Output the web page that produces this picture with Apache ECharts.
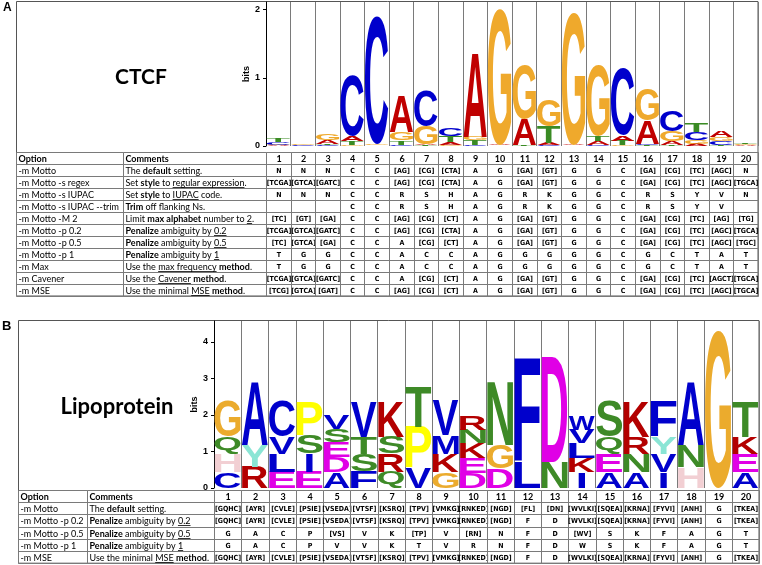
<!DOCTYPE html>
<html><head><meta charset="utf-8">
<script src="https://cdn.jsdelivr.net/npm/echarts@6/dist/echarts.min.js"></script>
<style>html,body{margin:0;padding:0;background:#fff}#c{width:762px;height:565px}</style>
</head><body><div id="c"></div>
<script>
// ================= DATA =================
const positions = [1,2,3,4,5,6,7,8,9,10,11,12,13,14,15,16,17,18,19,20];

// CTCF logo: letters bottom-to-top per position, heights in bits
const ctcfLetters = ['AGCT','ACTG','CTAG','GTAC','ATGC','CTGA','TAGC','GATC','CTGA','CTAG',
                     'CTAG','CATG','TCAG','CATG','GTAC','TCAG','TAGC','AGCT','TCGA','ACGT'];
const ctcfBits = [[0.01,0.01,0.04,0.06],[0.005,0.01,0.005,0.02],[0.01,0.02,0.06,0.10],[0.02,0.05,0.08,0.89],
                  [0.005,0.005,0.02,1.87],[0.02,0.06,0.12,0.53],[0.01,0.02,0.26,0.52],[0.02,0.04,0.09,0.12],
                  [0.01,0.07,0.05,1.23],[0.005,0.005,0.01,1.99],[0.005,0.01,0.38,0.80],[0.01,0.03,0.25,0.38],
                  [0.005,0.005,0.01,1.93],[0.02,0.06,0.07,1.04],[0.01,0.07,0.08,0.98],[0.01,0.02,0.34,0.47],
                  [0.02,0.05,0.15,0.31],[0.03,0.06,0.12,0.14],[0.02,0.05,0.06,0.09],[0.01,0.005,0.01,0.01]];

// Lipoprotein logo
const lipoLetters = ['CHQG','RYA','ELVC','EISP','ADESV','FSTV','QRSK','VPT','GKMV','DEKNR',
                     'DGN','LF','ND','IKLVW','AEQS','ANRK','IVYF','HNA','G','AEKT'];
const lipoBits = [[0.44,0.50,0.46,0.97],[0.58,0.59,1.75],[0.44,0.50,0.46,0.97],[0.44,0.50,0.50,0.93],
                  [0.44,0.41,0.41,0.35,0.38],[0.46,0.48,0.47,0.96],[0.44,0.50,0.46,0.97],[0.55,1.12,1.10],
                  [0.44,0.50,0.50,0.93],[0.40,0.41,0.41,0.37,0.39],[0.53,0.64,1.75],[0.71,2.86],
                  [0.71,2.86],[0.44,0.37,0.41,0.37,0.39],[0.44,0.50,0.46,0.97],[0.44,0.50,0.46,0.97],
                  [0.44,0.50,0.46,0.97],[0.58,0.59,1.75],[4.29],[0.44,0.50,0.46,0.97]];

const ctcfTicks = [0,1,2];
const lipoTicks = [0,1,2,3,4];

const ctcfOptions = ['-m Motto','-m Motto -s regex','-m Motto -s IUPAC','-m Motto -s IUPAC --trim','-m Motto -M 2',
  '-m Motto -p 0.2','-m Motto -p 0.5','-m Motto -p 1','-m Max','-m Cavener','-m MSE'];
const ctcfComments = ['The **default** setting.','Set **style** to __regular expression__.','Set **style** to __IUPAC__ code.',
  '**Trim** off flanking Ns.','Limit **max alphabet** number to __2__.','**Penalize** ambiguity by __0.2__',
  '**Penalize** ambiguity by __0.5__','**Penalize** ambiguity by __1__','Use the __max frequency__ **method**.',
  'Use the __Cavener__ **method**.','Use the minimal __MSE__ **method**.'];
const ctcfConsensus = [
  'N N N C C [AG] [CG] [CTA] A G [GA] [GT] G G C [GA] [CG] [TC] [AGC] N',
  '[TCGA] [GTCA] [GATC] C C [AG] [CG] [CTA] A G [GA] [GT] G G C [GA] [CG] [TC] [AGC] [TGCA]',
  'N N N C C R S H A G R K G G C R S Y V N',
  '_ _ _ C C R S H A G R K G G C R S Y V _',
  '[TC] [GT] [GA] C C [AG] [CG] [CT] A G [GA] [GT] G G C [GA] [CG] [TC] [AG] [TG]',
  '[TCGA] [GTCA] [GATC] C C [AG] [CG] [CTA] A G [GA] [GT] G G C [GA] [CG] [TC] [AGC] [TGCA]',
  '[TC] [GTCA] [GA] C C A [CG] [CT] A G [GA] [GT] G G C [GA] [CG] [TC] [AGC] [TGC]',
  'T G G C C A C C A G G G G G C G C T A T',
  'T G G C C A C C A G G G G G C G C T A T',
  '[TCGA] [GTCA] [GATC] C C A [CG] [CT] A G [GA] [GT] G G C [GA] [CG] [TC] [AGCT] [TGCA]',
  '[TCG] [GTCA] [GAT] C C [AG] [CG] [CT] A G [GA] [GT] G G C [GA] [CG] [TC] [AGC] [TGCA]'];

const lipoOptions = ['-m Motto','-m Motto -p 0.2','-m Motto -p 0.5','-m Motto -p 1','-m MSE'];
const lipoComments = ['The **default** setting.','**Penalize** ambiguity by __0.2__','**Penalize** ambiguity by __0.5__',
  '**Penalize** ambiguity by __1__','Use the minimal __MSE__ **method**.'];
const lipoConsensus = [
  '[GQHC] [AYR] [CVLE] [PSIE] [VSEDA] [VTSF] [KSRQ] [TPV] [VMKG] [RNKED] [NGD] [FL] [DN] [WVLKI] [SQEA] [KRNA] [FYVI] [ANH] G [TKEA]',
  '[GQHC] [AYR] [CVLE] [PSIE] [VSEDA] [VTSF] [KSRQ] [TPV] [VMKG] [RNKED] [NGD] F D [WVLKI] [SQEA] [KRNA] [FYVI] [ANH] G [TKEA]',
  'G A C P [VS] V K [TP] V [RN] N F D [WV] S K F A G T',
  'G A C P V V K T V R N F D W S K F A G T',
  '[GQHC] [AYR] [CVLE] [PSIE] [VSEDA] [VTSF] [KSRQ] [TPV] [VMKG] [RNKED] [NGD] F D [WVLKI] [SQEA] [KRNA] [FYVI] [ANH] G [TKEA]'];

const headerLabels = ['Option','Comments'];

// ================= STYLE / LAYOUT =================
const dnaColors = {A:'#c00000', C:'#0000cc', G:'#efa92c', T:'#3a8b24'};
const aaColors = {G:'#ebab2d', A:'#0000cc', C:'#0000cc', V:'#0000cc', L:'#0000cc', I:'#0000cc', F:'#0000cc', M:'#0000cc', W:'#0000cc',
  Q:'#3e8a27', S:'#3e8a27', T:'#3e8a27', N:'#3e8a27', H:'#f2cfd3', Y:'#8ae5d5', R:'#b30000', K:'#b30000',
  E:'#e000e6', D:'#e000e6', P:'#ffff00'};
const LOGO_FONT = 'bold 100px "Liberation Sans", Arial, sans-serif';
const TXT = '"Lato", "Liberation Sans", sans-serif';
const TXT_SIZE = '9px ';
const CELL_FONT = 'bold 7px "Liberation Sans Narrow", "DejaVu Sans Condensed", sans-serif';
const LINE = '#7a7a7a';

const LA = {logo:{left:266,right:758,top:2,base:146,bitPx:68.25}, table:{left:16,c1:123,c2:266,right:758,top:152,rowH:12}};
const LB = {logo:{left:214,right:759,top:321,base:488,bitPx:36.5}, table:{left:18,c1:87,c2:214,right:759,top:490,rowH:12.2}};

const mctx = document.createElement('canvas').getContext('2d');
function tw(text, font){ mctx.font = font; mctx.textAlign='left'; mctx.textBaseline='alphabetic'; return mctx.measureText(text).width; }
const gcache = {};
function glyph(ch){
  if (!gcache[ch]) {
    mctx.font = LOGO_FONT; mctx.textAlign = 'center'; mctx.textBaseline = 'middle';
    const m = mctx.measureText(ch);
    gcache[ch] = {L:m.actualBoundingBoxLeft, R:m.actualBoundingBoxRight, A:m.actualBoundingBoxAscent, D:m.actualBoundingBoxDescent};
  }
  return gcache[ch];
}
const narrowGlyph = {I:0.27};

function logoRenderer(letters, bits, colors){
  return function(params, api){
    const k = api.value(0);
    const col = letters[k-1], h = bits[k-1];
    const children = [];
    let cum = 0;
    for (let i = 0; i < col.length; i++) {
      const ch = col[i];
      const p0 = api.coord([k-1, cum]);
      const p1 = api.coord([k, cum + h[i]]);
      cum += h[i];
      let bx = p0[0] + 0.6, bw = p1[0] - p0[0] - 1.2;
      const by = p1[1], bh = p0[1] - p1[1];
      if (narrowGlyph[ch]) { const nw = bw * narrowGlyph[ch]; bx += (bw - nw) / 2; bw = nw; }
      const g = glyph(ch);
      const sx = bw / (g.L + g.R), sy = bh / (g.A + g.D);
      children.push({type:'text', x: bx + g.L*sx, y: by + g.A*sy, scaleX: sx, scaleY: sy,
        style:{text:ch, font:LOGO_FONT, fill:colors[ch], align:'center', verticalAlign:'middle',
               textAlign:'center', textVerticalAlign:'middle'}});
    }
    return {type:'group', children};
  };
}

function parseMarkup(s){
  const segs = []; const re = /(\*\*[^*]+\*\*|__[^_]+__)/g; let last = 0, m;
  while ((m = re.exec(s))) {
    if (m.index > last) segs.push({t:s.slice(last, m.index)});
    const tok = m[0];
    if (tok.startsWith('**')) segs.push({t:tok.slice(2,-2), b:true}); else segs.push({t:tok.slice(2,-2), u:true});
    last = m.index + tok.length;
  }
  if (last < s.length) segs.push({t:s.slice(last)});
  return segs;
}

function tableRenderer(edges, options, comments, consensus){
  return function(params, api){
    const c = api.value(0), r = api.value(1);
    const a = api.coord([edges[c], r]), b = api.coord([edges[c+1], r+1]);
    const x0 = Math.round(a[0]) + 0.5, x1 = Math.round(b[0]) + 0.5;
    const y0 = Math.round(Math.min(a[1], b[1])) + 0.5, y1 = Math.round(Math.max(a[1], b[1])) + 0.5;
    const yc = (y0 + y1) / 2 + 0.3;
    const ch = [{type:'rect', shape:{x:x0, y:y0, width:x1-x0, height:y1-y0}, style:{fill:'none', stroke:LINE, lineWidth:1}}];
    const txt = (t, x, font, align) => ({type:'text', x:x, y:yc, style:{text:t, font:font, fill:'#000', align:align, verticalAlign:'middle', textAlign:align, textVerticalAlign:'middle'}});
    if (r === 0) {
      if (c < 2) ch.push(txt(headerLabels[c], x0 + 2, 'bold ' + TXT_SIZE + TXT, 'left'));
      else ch.push(txt(String(positions[c-2]), (x0+x1)/2, 'bold ' + TXT_SIZE + TXT, 'center'));
    } else if (c === 0) {
      ch.push(txt(options[r-1], x0 + 2, TXT_SIZE + TXT, 'left'));
    } else if (c === 1) {
      let x = x0 + 2;
      parseMarkup(comments[r-1]).forEach(sg => {
        const f = (sg.b ? 'bold ' : '') + TXT_SIZE + TXT;
        const w = tw(sg.t, f);
        ch.push(txt(sg.t, x, f, 'left'));
        if (sg.u) ch.push({type:'line', shape:{x1:x, y1:Math.round(yc+4)+0.5, x2:x+w, y2:Math.round(yc+4)+0.5}, style:{stroke:'#000', lineWidth:0.8}});
        x += w;
      });
    } else {
      const v = consensus[r-1].split(' ')[c-2];
      if (v !== '_') ch.push(txt(v, (x0+x1)/2, CELL_FONT, 'center'));
    }
    return {type:'group', children:ch};
  };
}

function tableEdges(T){
  const cw = (T.right - T.c2) / 20;
  const e = [-(T.c2 - T.left)/cw, -(T.c2 - T.c1)/cw];
  for (let i = 0; i <= 20; i++) e.push(i);
  return e;
}
function cells(nRows){ const d = []; for (let r = 0; r <= nRows; r++) for (let c = 0; c < 22; c++) d.push([c, r]); return d; }

const eA = tableEdges(LA.table), eB = tableEdges(LB.table);

function logoGrid(L){ return {left:L.left, top:L.top, width:L.right-L.left, height:L.base-L.top, outerBoundsMode:'none'}; }
function tableGrid(T, n){ return {left:T.left, top:T.top, width:T.right-T.left, height:(n+1)*T.rowH, outerBoundsMode:'none'}; }
function logoX(gi){ return {type:'value', gridIndex:gi, min:0, max:20, interval:1, axisLine:{show:false}, axisTick:{show:false}, axisLabel:{show:false},
  splitLine:{show:true, lineStyle:{color:LINE, width:1}}}; }
function logoY(gi, L, ticks){ return {type:'value', gridIndex:gi, min:0, max:(L.base-L.top)/L.bitPx, interval:1,
  axisLine:{show:true, lineStyle:{color:'#000', width:1}},
  axisTick:{show:true, length:3, customValues:ticks, lineStyle:{color:'#000'}},
  axisLabel:{customValues:ticks, color:'#000', fontWeight:'bold', fontSize:9, fontFamily:'Liberation Sans', margin:6},
  splitLine:{show:false}, name:'bits', nameLocation:'middle', nameRotate:90, nameGap:15, nameMoveOverlap:false,
  nameTextStyle:{color:'#000', fontWeight:'bold', fontSize:9, fontFamily:'Liberation Sans'}}; }
function hidAx(gi, min, max, inv){ return {type:'value', gridIndex:gi, min:min, max:max, inverse:!!inv, show:false, splitLine:{show:false}}; }

const chart = echarts.init(document.getElementById('c'), null, {renderer:'canvas'});
chart.setOption({
  animation:false,
  backgroundColor:'#fff',
  grid:[logoGrid(LA.logo), tableGrid(LA.table, ctcfOptions.length), logoGrid(LB.logo), tableGrid(LB.table, lipoOptions.length)],
  xAxis:[logoX(0), hidAx(1, eA[0], 20), logoX(2), hidAx(3, eB[0], 20)],
  yAxis:[logoY(0, LA.logo, ctcfTicks), hidAx(1, 0, ctcfOptions.length+1, true), logoY(2, LB.logo, lipoTicks), hidAx(3, 0, lipoOptions.length+1, true)],
  graphic:[
    {type:'rect', shape:{x:16.5, y:1.5, width:741.5, height:LA.table.top + 12*LA.table.rowH - 1.5}, style:{fill:'none', stroke:'#555', lineWidth:1}, z:0},
    {type:'rect', shape:{x:18.5, y:320.5, width:740.5, height:LB.table.top + 6*LB.table.rowH - 320.5}, style:{fill:'none', stroke:'#555', lineWidth:1}, z:0},
    {type:'text', left:3, top:2, style:{text:'A', font:'bold 12px "Liberation Sans", Arial', fill:'#000'}},
    {type:'text', left:2, top:320, style:{text:'B', font:'bold 13px "Liberation Sans", Arial', fill:'#000'}},
    {type:'text', x:141, y:77, style:{text:'CTCF', font:'bold 21px ' + TXT, fill:'#000', align:'center', verticalAlign:'middle', textAlign:'center', textVerticalAlign:'middle'}},
    {type:'text', x:117, y:407, style:{text:'Lipoprotein', font:'bold 22px ' + TXT, fill:'#000', align:'center', verticalAlign:'middle', textAlign:'center', textVerticalAlign:'middle'}}
  ],
  series:[
    {type:'custom', xAxisIndex:0, yAxisIndex:0, silent:true, data:positions.map(p=>[p]), renderItem:logoRenderer(ctcfLetters, ctcfBits, dnaColors)},
    {type:'custom', xAxisIndex:1, yAxisIndex:1, silent:true, data:cells(ctcfOptions.length), renderItem:tableRenderer(eA, ctcfOptions, ctcfComments, ctcfConsensus)},
    {type:'custom', xAxisIndex:2, yAxisIndex:2, silent:true, data:positions.map(p=>[p]), renderItem:logoRenderer(lipoLetters, lipoBits, aaColors)},
    {type:'custom', xAxisIndex:3, yAxisIndex:3, silent:true, data:cells(lipoOptions.length), renderItem:tableRenderer(eB, lipoOptions, lipoComments, lipoConsensus)}
  ]
});
</script>
</body></html>
